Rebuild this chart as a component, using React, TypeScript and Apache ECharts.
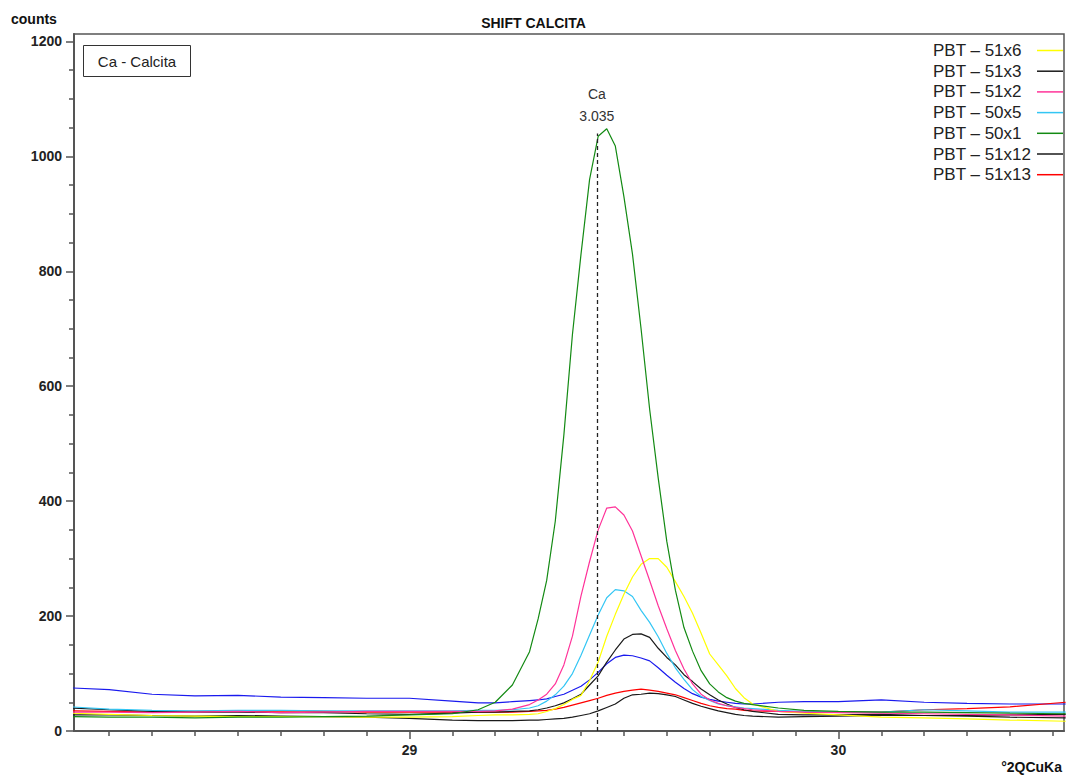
import React, { useEffect, useRef } from "react";
import * as echarts from "echarts";

// 2θ positions (°2Θ CuKα)
const xValues = [
  28.21, 28.3, 28.4, 28.5, 28.6, 28.7, 28.8, 28.9, 29.0, 29.1,
  29.16, 29.2, 29.24, 29.28, 29.3, 29.32, 29.34, 29.36, 29.38, 29.4,
  29.42, 29.44, 29.46, 29.48, 29.5, 29.52, 29.54, 29.56, 29.58, 29.6,
  29.62, 29.64, 29.66, 29.68, 29.7, 29.72, 29.74, 29.76, 29.78, 29.8,
  29.86, 29.92, 30.0, 30.1, 30.2, 30.3, 30.4, 30.53,
];

const pbt51x6 = [
  31, 29, 27, 26, 25, 25, 25, 24, 24, 25,
  27, 28, 28, 29, 30, 34, 39, 46, 55, 62,
  88, 120, 165, 203, 238, 268, 290, 300, 300, 285,
  260, 234, 205, 170, 134, 115, 96, 74, 58, 47,
  34, 31, 28, 24, 23, 21, 19, 17,
];
const pbt51x3 = [
  40, 37, 34, 33, 33, 32, 32, 30, 29, 31,
  33, 33, 34, 35, 37, 40, 44, 49, 56, 64,
  80, 96, 120, 141, 160, 168, 169, 163, 144, 128,
  115, 98, 86, 73, 63, 54, 47, 41, 37, 34,
  29, 28, 28, 29, 27, 26, 24, 23,
];
const pbt51x2 = [
  33, 33, 32, 33, 34, 32, 33, 34, 34, 34,
  34, 35, 38, 46, 54, 64, 82, 115, 165, 235,
  295, 350, 388, 390, 376, 348, 305, 262, 218, 178,
  140, 108, 82, 64, 54, 48, 44, 41, 39, 37,
  34, 33, 32, 31, 30, 29, 28, 26,
];
const pbt50x5 = [
  42, 38, 36, 35, 36, 36, 35, 35, 35, 35,
  36, 36, 37, 40, 44, 52, 63, 78, 100, 132,
  167, 202, 232, 246, 244, 234, 210, 189, 164, 135,
  110, 90, 72, 60, 53, 47, 44, 42, 40, 39,
  36, 34, 33, 33, 37, 35, 33, 33,
];
const pbt50x1 = [
  25, 24, 24, 23, 24, 24, 25, 26, 28, 30,
  37, 50, 80, 138, 195, 262, 365, 515, 690, 830,
  960, 1035, 1048, 1018, 930, 830, 700, 560, 440, 330,
  245, 180, 139, 105, 82, 68, 58, 52, 48, 46,
  40, 36, 34, 33, 33, 32, 31, 30,
];
const pbt51x12 = [
  28, 28, 27, 26, 27, 26, 25, 24, 22, 19,
  18, 18, 18, 19, 19, 20, 21, 22, 24, 27,
  30, 35, 41, 47, 57, 63, 64, 66, 65, 63,
  60, 54, 48, 43, 39, 35, 32, 29, 27, 26,
  24, 25, 26, 27, 27, 27, 28, 29,
];
const pbt51x13 = [
  35, 34, 33, 34, 34, 35, 34, 33, 33, 33,
  33, 33, 33, 34, 35, 36, 38, 41, 45, 49,
  53, 57, 62, 66, 69, 71, 73, 71, 69, 66,
  63, 58, 53, 48, 44, 41, 39, 38, 36, 35,
  34, 33, 33, 33, 37, 39, 42, 50,
];
const unlabeledBlue = [
  75, 72, 64, 61, 62, 59, 58, 57, 57, 52,
  49, 49, 51, 53, 54, 56, 60, 64, 71, 78,
  89, 102, 117, 128, 132, 131, 127, 122, 110, 97,
  85, 74, 65, 59, 55, 52, 50, 48, 47, 47,
  50, 51, 51, 54, 50, 48, 47, 47,
];

const legendNames = [
  "PBT – 51x6",
  "PBT – 51x3",
  "PBT – 51x2",
  "PBT – 50x5",
  "PBT – 50x1",
  "PBT – 51x12",
  "PBT – 51x13",
];

const yMajorTicks = [0, 200, 400, 600, 800, 1000, 1200];
const yMinorTicks = [50, 100, 150, 250, 300, 350, 450, 500, 550, 650, 700, 750, 850, 900, 950, 1050, 1100, 1150];
const xMajorTicks = [29, 30];
const xMinorTicks = [
  28.3, 28.4, 28.5, 28.6, 28.7, 28.8, 28.9,
  29.1, 29.2, 29.3, 29.4, 29.5, 29.6, 29.7, 29.8, 29.9,
  30.1, 30.2, 30.3, 30.4, 30.5,
];

const peakPosition = 29.437;
const peakTop = 1040;
const peakLabel = "Ca";
const peakD = "3.035";

const FONT = 'Arial, "Liberation Sans", sans-serif';

export default function App() {
  const ref = useRef<HTMLDivElement>(null);

  useEffect(() => {
    if (!ref.current) return;
    const chart = echarts.init(ref.current, undefined, { renderer: "svg" });

    const toData = (arr: number[]) => xValues.map((x, i) => [x, arr[i]]);
    const mk = (name: string, arr: number[], color: string, extra: any = {}) => ({
      name,
      type: "line",
      data: toData(arr),
      showSymbol: false,
      symbol: "none",
      lineStyle: { color, width: 1.2 },
      itemStyle: { color },
      xAxisIndex: 0,
      yAxisIndex: 0,
      z: 3,
      ...extra,
    });

    const option: any = {
      animation: false,
      backgroundColor: "#ffffff",
      textStyle: { fontFamily: FONT },
      title: {
        text: "SHIFT CALCITA",
        left: "center",
        top: 11,
        textStyle: { fontFamily: FONT, fontSize: 14, fontWeight: "bold", color: "#111" },
      },
      grid: {
        left: 74,
        right: 3,
        top: 34,
        bottom: 47,
        show: true,
        borderColor: "#555",
        borderWidth: 1.5,
        backgroundColor: "transparent",
      },
      legend: {
        data: legendNames,
        orient: "vertical",
        right: 4,
        top: 42,
        padding: 0,
        align: "right",
        icon: "rect",
        itemWidth: 26,
        itemHeight: 1.5,
        itemGap: 3.7,
        formatter: (name: string) => `{n|${name}}`,
        textStyle: {
          fontFamily: FONT,
          fontSize: 17,
          color: "#222",
          lineHeight: 17,
          rich: {
            n: {
              width: 99,
              align: "left",
              fontFamily: FONT,
              fontSize: 17,
              color: "#222",
              lineHeight: 17,
            },
          },
        },
      },
      xAxis: [
        {
          type: "value",
          min: 28.218,
          max: 30.526,
          position: "bottom",
          axisLine: { show: true, lineStyle: { color: "#555", width: 2 } },
          axisTick: { show: true, length: 8, customValues: xMajorTicks, lineStyle: { color: "#555", width: 1.5 } },
          axisLabel: {
            customValues: xMajorTicks,
            formatter: (v: number) => String(v),
            fontFamily: FONT,
            fontSize: 14,
            fontWeight: "bold",
            color: "#222",
            margin: 12,
          },
          splitLine: { show: false },
        },
        {
          type: "value",
          min: 28.218,
          max: 30.526,
          position: "bottom",
          axisLine: { show: false },
          axisTick: { show: true, length: 5, customValues: xMinorTicks, lineStyle: { color: "#555", width: 1.5 } },
          axisLabel: { show: false },
          splitLine: { show: false },
        },
      ],
      yAxis: [
        {
          type: "value",
          min: 0,
          max: 1213,
          position: "left",
          axisLine: { show: true, lineStyle: { color: "#555", width: 2 } },
          axisTick: { show: true, length: 8, customValues: yMajorTicks, lineStyle: { color: "#555", width: 1.5 } },
          axisLabel: {
            customValues: yMajorTicks,
            formatter: (v: number) => String(v),
            fontFamily: FONT,
            fontSize: 14,
            fontWeight: "bold",
            color: "#222",
            margin: 12,
          },
          splitLine: { show: false },
        },
        {
          type: "value",
          min: 0,
          max: 1213,
          position: "left",
          axisLine: { show: false },
          axisTick: { show: true, length: 5, customValues: yMinorTicks, lineStyle: { color: "#555", width: 1.5 } },
          axisLabel: { show: false },
          splitLine: { show: false },
        },
      ],
      graphic: [
        {
          type: "text",
          left: 11,
          top: 12,
          style: { text: "counts", font: `bold 14px ${FONT}`, fill: "#111" },
        },
        {
          type: "text",
          right: 5,
          top: 760,
          style: { text: "°2QCuKa", font: `bold 14px ${FONT}`, fill: "#111" },
        },
        {
          type: "group",
          left: 83,
          top: 45,
          children: [
            {
              type: "rect",
              shape: { x: 0, y: 0, width: 107, height: 31 },
              style: { fill: "#fff", stroke: "#333", lineWidth: 1 },
            },
            {
              type: "text",
              x: 53.5,
              y: 15.5,
              style: {
                text: "Ca - Calcita",
                font: `15px ${FONT}`,
                fill: "#222",
                align: "center",
                verticalAlign: "middle",
              },
            },
          ],
        },
      ],
      series: [
        mk("PBT – sin leyenda", unlabeledBlue, "#1a1aee"),
        mk(legendNames[6], pbt51x13, "#ff0000"),
        mk(legendNames[5], pbt51x12, "#1a1a1a"),
        mk(legendNames[1], pbt51x3, "#1a1a1a"),
        mk(legendNames[3], pbt50x5, "#33c6f4"),
        mk(legendNames[0], pbt51x6, "#ffff00"),
        mk(legendNames[2], pbt51x2, "#ff3399"),
        mk(legendNames[4], pbt50x1, "#138a13", {
          markLine: {
            silent: true,
            symbol: ["none", "none"],
            lineStyle: { color: "#222", type: [4, 3], width: 1.3 },
            label: {
              show: true,
              position: "end",
              distance: 6,
              formatter: `${peakLabel}\n${peakD}`,
              fontFamily: FONT,
              fontSize: 14,
              color: "#333",
              lineHeight: 22,
            },
            data: [[{ coord: [peakPosition, 0] }, { coord: [peakPosition, peakTop] }]],
          },
        }),
      ],
    };

    chart.setOption(option);
    return () => chart.dispose();
  }, []);

  return (
    <div
      ref={ref}
      style={{ position: "fixed", left: 0, top: 0, width: 1067, height: 778, background: "#fff" }}
    />
  );
}
